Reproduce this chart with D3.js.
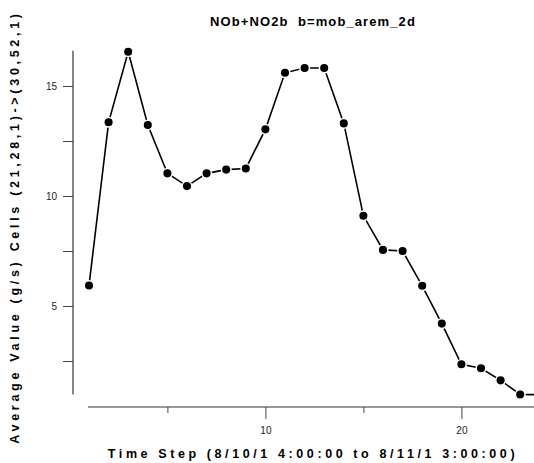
<!DOCTYPE html>
<html>
<head>
<meta charset="utf-8">
<script src="https://cdn.jsdelivr.net/npm/d3@7"></script>
<style>
  body { margin: 0; background: #fff; }
  text { font-family: "Liberation Sans", Arial, sans-serif; }
  .tick text { font-size: 10px; fill: #222; }
</style>
</head>
<body>
<div class="chart"></div>
<script>
var svgWidth = 534;
var svgHeight = 463;

// data
var timeSteps = [1, 2, 3, 4, 5, 6, 7, 8, 9, 10, 11, 12, 13, 14, 15, 16, 17, 18, 19, 20, 21, 22, 23, 24];
var avgValues = [5.93, 13.35, 16.56, 13.23, 11.03, 10.45, 11.03, 11.2, 11.25, 13.03, 15.6, 15.82, 15.82, 13.3,
                 9.1, 7.55, 7.5, 5.92, 4.2, 2.35, 2.17, 1.62, 0.98, 0.97];
var yMajorTicks = [5, 10, 15];
var yMinorTicks = [2.5, 7.5, 12.5];
var xMajorTicks = [10, 20];
var xMinorTicks = [5, 15];

var titleText = "NOb+NO2b  b=mob_arem_2d";
var xTitle = "Time Step (8/10/1 4:00:00 to 8/11/1 3:00:00)";
var yTitle = "Average Value (g/s) Cells (21,28,1)->(30,52,1)";

var data = timeSteps.map(function(t, i) { return { step: t, value: avgValues[i] }; });

var svg = d3.select(".chart")
  .append("svg")
  .attr("width", svgWidth)
  .attr("height", svgHeight);

// scales
var xScale = d3.scaleLinear()
  .domain([1, 24])
  .range([89, 539.8]);

var yScale = d3.scaleLinear()
  .domain([5, 15])
  .range([306, 86]);

// y axis
var yAxisG = svg.append("g").attr("transform", "translate(73,0)");
yAxisG.append("line")
  .attr("y1", yScale(16.6)).attr("y2", yScale(0.98))
  .attr("stroke", "#333").attr("stroke-width", 1.2);
yAxisG.call(d3.axisLeft(yScale).tickValues(yMajorTicks).tickSize(10).tickPadding(6).tickFormat(d3.format("d")))
  .call(g => g.select(".domain").remove());
yAxisG.append("g")
  .call(d3.axisLeft(yScale).tickValues(yMinorTicks).tickSize(10).tickFormat(""))
  .call(g => g.select(".domain").remove());
yAxisG.selectAll(".tick line").attr("stroke", "#444");

// x axis
var xAxisG = svg.append("g").attr("transform", "translate(0,407)");
xAxisG.append("line")
  .attr("x1", 88).attr("x2", svgWidth)
  .attr("stroke", "#333").attr("stroke-width", 1.2);
xAxisG.call(d3.axisBottom(xScale).tickValues(xMajorTicks).tickSize(12).tickPadding(8).tickFormat(d3.format("d")))
  .call(g => g.select(".domain").remove());
xAxisG.append("g")
  .call(d3.axisBottom(xScale).tickValues(xMinorTicks).tickSize(6).tickFormat(""))
  .call(g => g.select(".domain").remove());
xAxisG.selectAll(".tick line").attr("stroke", "#444");

// line
var line = d3.line()
  .x(d => xScale(d.step))
  .y(d => yScale(d.value));

svg.append("path")
  .datum(data)
  .attr("fill", "none")
  .attr("stroke", "#000")
  .attr("stroke-width", 1.6)
  .attr("d", line);

// points
svg.selectAll("circle.pt")
  .data(data)
  .enter()
  .append("circle")
  .attr("class", "pt")
  .attr("cx", d => xScale(d.step))
  .attr("cy", d => yScale(d.value))
  .attr("r", 4.8)
  .attr("fill", "#000")
  .attr("stroke", "#fff")
  .attr("stroke-width", 1.5);

// titles
svg.append("text")
  .attr("x", 313)
  .attr("y", 26)
  .attr("text-anchor", "middle")
  .style("white-space", "pre")
  .style("font-size", "13px")
  .style("font-weight", "600")
  .style("letter-spacing", "1.1px")
  .text(titleText);

svg.append("text")
  .attr("x", 313)
  .attr("y", 458)
  .attr("text-anchor", "middle")
  .style("font-size", "12.5px")
  .style("font-weight", "bold")
  .style("letter-spacing", "3.6px")
  .text(xTitle);

svg.append("text")
  .attr("transform", "translate(19,227) rotate(-90)")
  .attr("text-anchor", "middle")
  .style("font-size", "12.5px")
  .style("font-weight", "bold")
  .style("letter-spacing", "3.7px")
  .text(yTitle);
</script>
</body>
</html>
